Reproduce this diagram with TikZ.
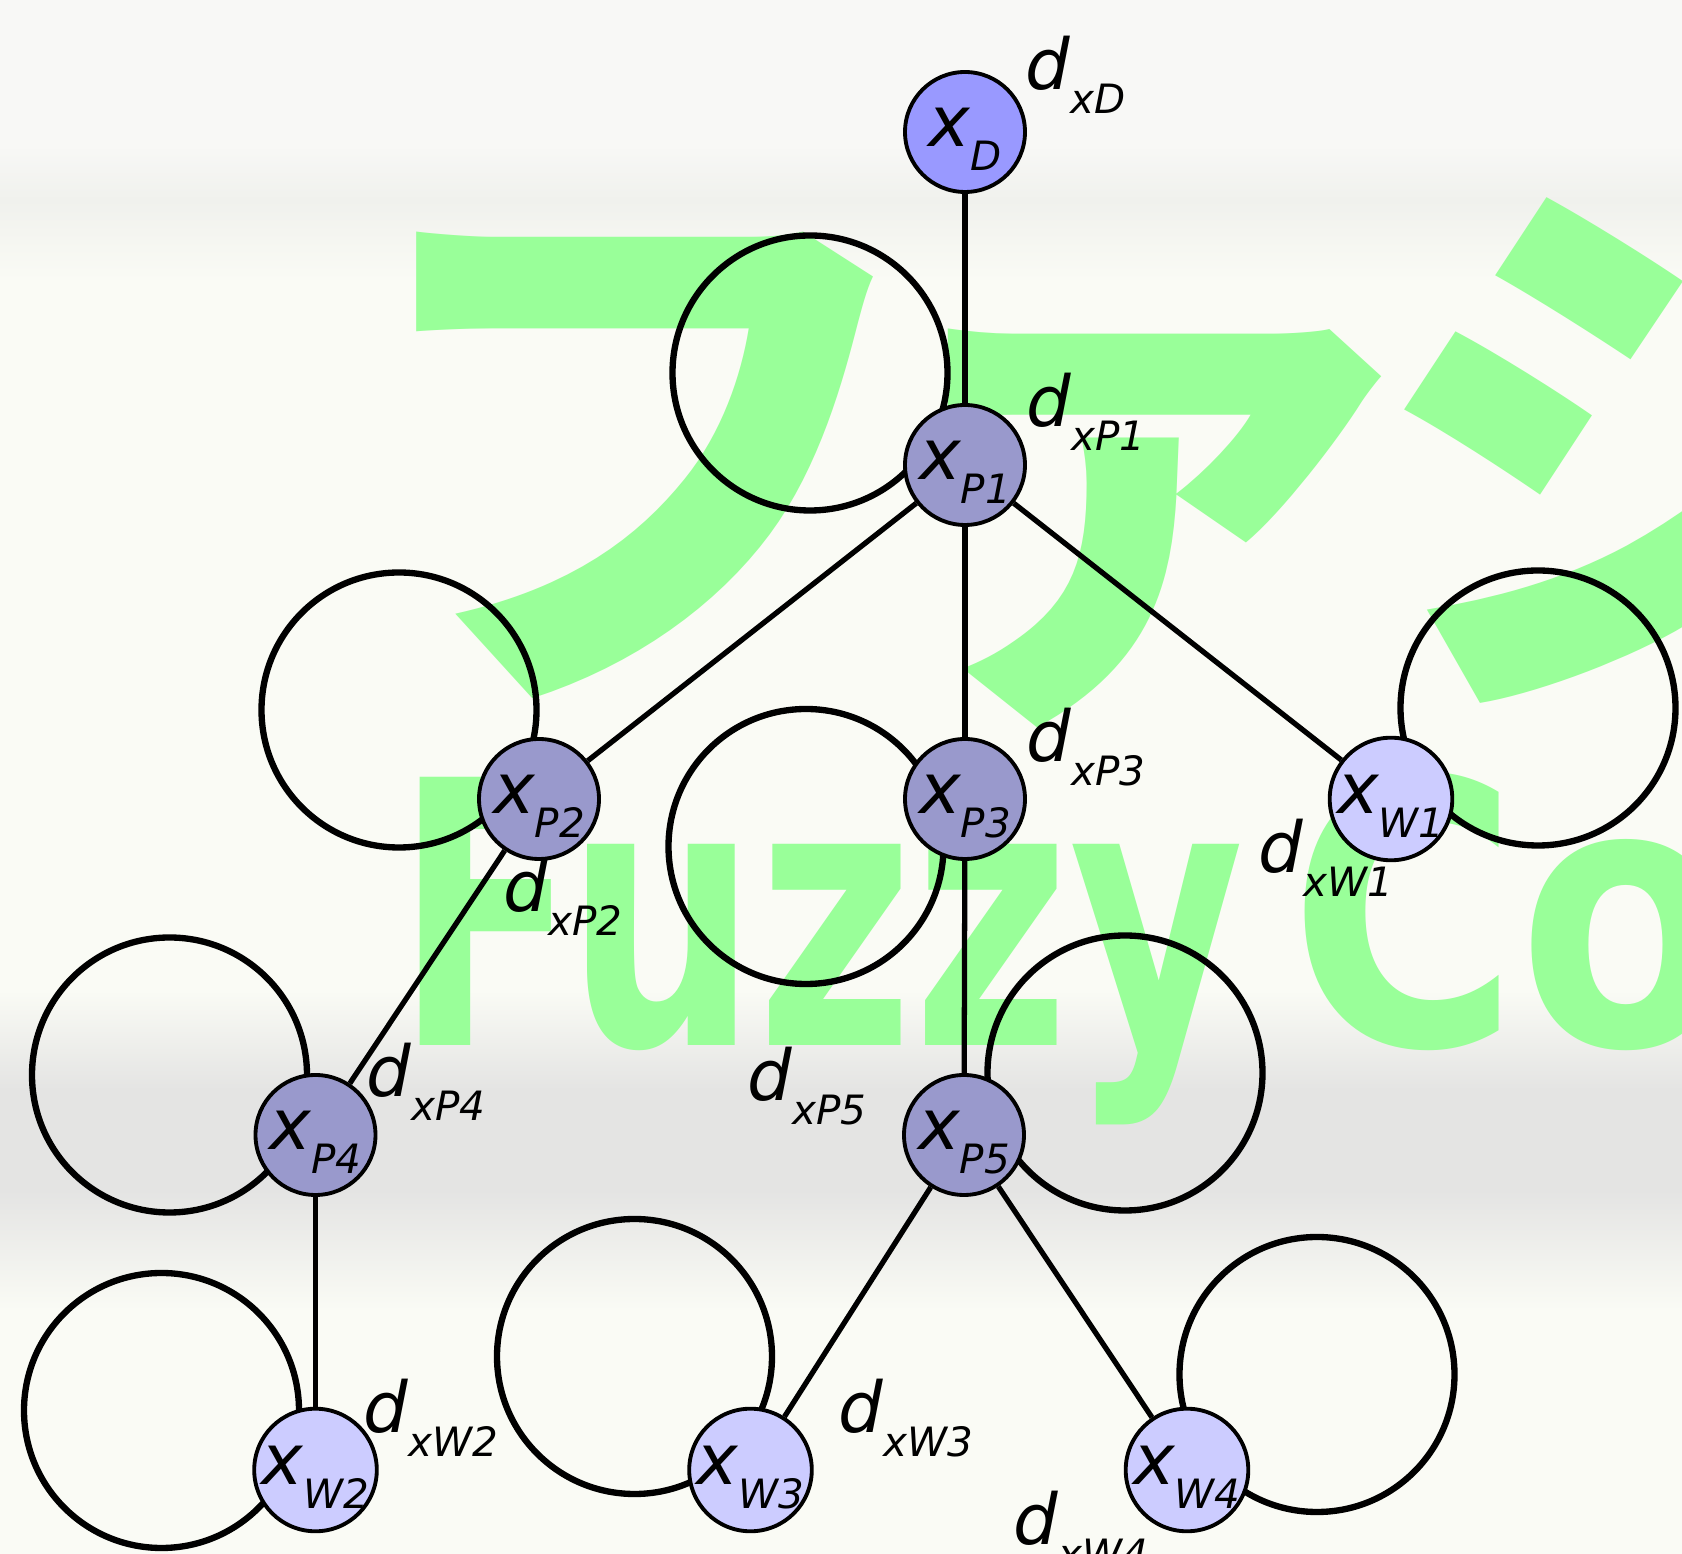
\documentclass[tikz,border=0pt]{standalone}
\usepackage{fontspec}
\setmainfont{DejaVu Sans}
\newfontfamily\cjk{Noto Sans CJK JP}
\usepackage{graphicx}
\usepackage{xcolor}
\usepackage{tikz}
\usetikzlibrary{calc, positioning}

\definecolor{dblue}{RGB}{153,153,255}
\definecolor{pblue}{RGB}{153,153,204}
\definecolor{wblue}{RGB}{204,204,255}
\definecolor{wmgreen}{RGB}{153,255,153}
\definecolor{bgtop}{RGB}{248,248,246}
\definecolor{bgbase}{RGB}{250,251,245}
\definecolor{bgband}{RGB}{240,241,237}
\definecolor{bggray}{RGB}{228,228,227}

% x with a lowered index
\newcommand{\sublbl}[2]{#1\raisebox{-0.24cm}{\fontsize{11.5pt}{12pt}\selectfont #2}}

\begin{document}
\begin{tikzpicture}[
    every node/.style={inner sep=0pt},
    xnode/.style={circle, draw, line width=1.1pt, minimum size=1.2cm,
        font=\fontsize{20pt}{21pt}\selectfont\itshape,
        text height=0.45cm, text depth=0.15cm},
    dnode/.style={xnode, fill=dblue},
    pnode/.style={xnode, fill=pblue},
    wnode/.style={xnode, fill=wblue},
    conn/.style={line width=1.5pt},
    selfloop/.style={line width=1.8pt},
    dlabel/.style={anchor=base west, font=\fontsize{20pt}{21pt}\selectfont\itshape},
    watermark/.style={anchor=base west, text=wmgreen}
]

    % =================================================================
    % 1. KHUNG VA NEN
    % =================================================================
    \useasboundingbox (0,0) rectangle (16.82,-15.54);
    \clip (0,0) rectangle (16.82,-15.54);

    \fill[bgbase] (0,0) rectangle (16.82,-15.54);
    \fill[bgtop] (0,0) rectangle (16.82,-1.45);
    \shade[top color=bgtop, bottom color=bgband] (0,-1.45) rectangle (16.82,-2.0);
    \shade[top color=bgband, bottom color=bgbase] (0,-2.0) rectangle (16.82,-2.8);
    \shade[top color=bgbase, bottom color=bggray] (0,-9.9) rectangle (16.82,-10.9);
    \fill[bggray] (0,-10.9) rectangle (16.82,-11.9);
    \shade[top color=bggray, bottom color=bgbase] (0,-11.9) rectangle (16.82,-13.1);

    % chu chim mau xanh
    \node[watermark, font=\cjk\bfseries\fontsize{166pt}{170pt}\selectfont] (wmfu)
        at (3.45,-6.66) {フ};
    \node[watermark, font=\cjk\bfseries\fontsize{166pt}{170pt}\selectfont] (wma)
        at (8.55,-6.66) {ァ};
    \node[watermark, font=\cjk\bfseries\fontsize{166pt}{170pt}\selectfont] (wmji)
        at (13.72,-6.66) {ジ};
    \node[watermark, font=\bfseries\fontsize{104.7pt}{110pt}\selectfont] (wmen)
        at (3.95,-10.46) {\spaceskip=0.12em plus 0pt\relax
            \scalebox{0.73}[1]{Fuzzy} \scalebox{0.85}[1]{Co}};

    % =================================================================
    % 2. TOA DO CAC NUT
    % =================================================================
    \coordinate (cD)  at (9.65,-1.32);
    \coordinate (cP1) at (9.65,-4.65);
    \coordinate (cP2) at (5.39,-7.99);
    \coordinate (cP3) at (9.65,-7.99);
    \coordinate (cW1) at (13.91,-7.99);
    \coordinate (cP4) at (3.155,-11.35);
    \coordinate (cP5) at (9.64,-11.35);
    \coordinate (cW2) at (3.155,-14.70);
    \coordinate (cW3) at (7.505,-14.70);
    \coordinate (cW4) at (11.87,-14.70);

    % =================================================================
    % 3. VONG LAP
    % =================================================================
    \foreach \c/\dx/\dy in {cP1/-1.55/0.92, cP2/-1.40/0.89, cP3/-1.59/-0.475,
                            cW1/1.47/0.91, cP4/-1.46/0.60, cP5/1.61/0.62,
                            cW2/-1.54/0.595, cW3/-1.16/1.135, cW4/1.30/0.955} {
        \draw[selfloop] (\c) ++(\dx,\dy) circle (1.375);
    }

    % =================================================================
    % 4. CAC NUT VA CANH
    % =================================================================
    \node[dnode] (xD)  at (cD)  {\sublbl{x}{D}};
    \node[pnode] (xP1) at (cP1) {\sublbl{x}{P1}};
    \node[pnode] (xP2) at (cP2) {\sublbl{x}{P2}};
    \node[pnode] (xP3) at (cP3) {\sublbl{x}{P3}};
    \node[wnode] (xW1) at (cW1) {\sublbl{x}{W1}};
    \node[pnode] (xP4) at (cP4) {\sublbl{x}{P4}};
    \node[pnode] (xP5) at (cP5) {\sublbl{x}{P5}};
    \node[wnode] (xW2) at (cW2) {\sublbl{x}{W2}};
    \node[wnode] (xW3) at (cW3) {\sublbl{x}{W3}};
    \node[wnode] (xW4) at (cW4) {\sublbl{x}{W4}};

    \draw[conn] (xD) -- (xP1);
    \draw[conn] (xP1) -- (xP2);
    \draw[conn] (xP1) -- (xP3);
    \draw[conn] (xP1) -- (xW1);
    \draw[conn] (xP2) -- (xP4);
    \draw[conn] (xP3) -- (xP5);
    \draw[conn] (xP4) -- (xW2);
    \draw[conn] (xP5) -- (xW3);
    \draw[conn] (xP5) -- (xW4);

    % =================================================================
    % 5. NHAN d
    % =================================================================
    \node[dlabel] (dD)  at (10.25,-0.90)  {\sublbl{d}{xD}};
    \node[dlabel] (dP1) at (10.26,-4.27)  {\sublbl{d}{xP1}};
    \node[dlabel] (dP3) at (10.26,-7.62)  {\sublbl{d}{xP3}};
    \node[dlabel] (dP2) at (5.03,-9.12)   {\sublbl{d}{xP2}};
    \node[dlabel] (dW1) at (12.58,-8.73)  {\sublbl{d}{xW1}};
    \node[dlabel] (dP4) at (3.66,-10.97)  {\sublbl{d}{xP4}};
    \node[dlabel] (dP5) at (7.47,-11.01)  {\sublbl{d}{xP5}};
    \node[dlabel] (dW2) at (3.63,-14.33)  {\sublbl{d}{xW2}};
    \node[dlabel] (dW3) at (8.38,-14.33)  {\sublbl{d}{xW3}};
    \node[dlabel] (dW4) at (10.13,-15.45) {\sublbl{d}{xW4}};

\end{tikzpicture}
\end{document}
